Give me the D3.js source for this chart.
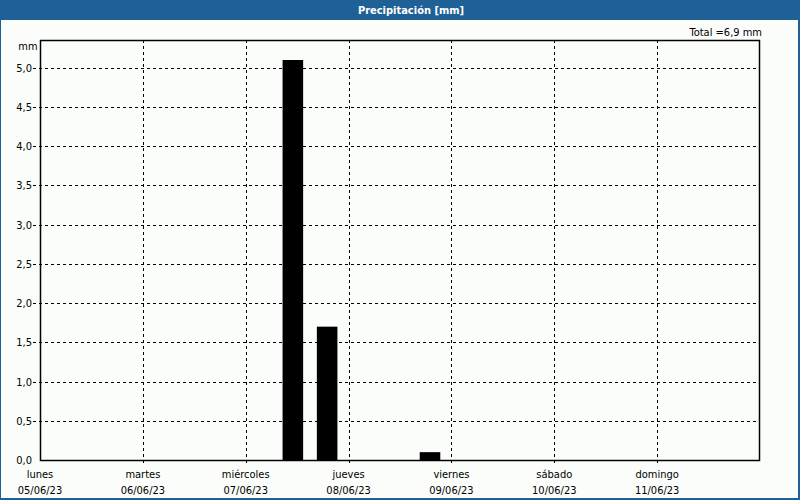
<!DOCTYPE html>
<html><head><meta charset="utf-8">
<script src="https://cdn.jsdelivr.net/npm/d3@7"></script>
<style>html,body{margin:0;padding:0;background:#fbfdfb;}svg{display:block;}</style>
</head><body>
<script>
const title = "Precipitación [mm]";
const unitLabel = "mm";
const totalLabel = "Total =6,9 mm";
const dayNames = ["lunes","martes","miércoles","jueves","viernes","sábado","domingo"];
const dayDates = ["05/06/23","06/06/23","07/06/23","08/06/23","09/06/23","10/06/23","11/06/23"];
// 8-hour periods: bar center time (day offset from 05/06 00:00, hours)
const barDay = [2, 2, 3];
const barHour = [11, 19, 19];
const barValue = [5.1, 1.7, 0.1];
const yTicks = [0,0.5,1,1.5,2,2.5,3,3.5,4,4.5,5];

const W = 800, H = 500;
const m = {l:40, r:40, t:40, b:40};
const font = "Tahoma, 'DejaVu Sans Condensed', 'Liberation Sans', sans-serif";

const svg = d3.select("body").append("svg").attr("width", W).attr("height", H)
  .style("font-family", font);

svg.append("rect").attr("x",0).attr("y",0).attr("width",W).attr("height",H).attr("fill","#fbfdfb");
// title bar
svg.append("rect").attr("x",0).attr("y",0).attr("width",W).attr("height",20).attr("fill","#1f6197");
svg.append("text").attr("x",411).attr("y",14).attr("text-anchor","middle")
  .attr("fill","#ffffff").attr("font-weight","bold").attr("font-size","11px").text(title);
// outer border
svg.append("rect").attr("x",0.5).attr("y",0.5).attr("width",W-2).attr("height",H-2)
  .attr("fill","none").attr("stroke","#1f6197").attr("stroke-width",1);
svg.append("rect").attr("x",W-2).attr("y",0).attr("width",2).attr("height",H).attr("fill","#1f6197");
svg.append("rect").attr("x",0).attr("y",H-2).attr("width",W).attr("height",2).attr("fill","#1f6197");

const x = d3.scaleLinear().domain([0, 7]).range([m.l, W - m.r]);
const y = d3.scaleLinear().domain([0, 5.1*1.05]).range([H - m.b, m.t]);

// horizontal grid
const g = svg.append("g");
g.selectAll("line.h").data(yTicks.filter(v=>v>0)).join("line")
  .attr("x1", m.l-7).attr("x2", W-m.r)
  .attr("y1", d=>Math.round(y(d))+0.5).attr("y2", d=>Math.round(y(d))+0.5)
  .attr("stroke","#000").attr("stroke-dasharray","3,3");
// vertical grid
g.selectAll("line.v").data(d3.range(1,7)).join("line")
  .attr("x1", d=>Math.round(x(d))+0.5).attr("x2", d=>Math.round(x(d))+0.5)
  .attr("y1", m.t).attr("y2", H-m.b+3)
  .attr("stroke","#000").attr("stroke-dasharray","3,3");

// bars
const bw = x(4.8/24) - x(0);
svg.selectAll("rect.bar").data(barValue).join("rect")
  .attr("x", (d,i)=> x(barDay[i] + barHour[i]/24) - bw/2)
  .attr("width", bw)
  .attr("y", d=> y(d))
  .attr("height", d=> y(0) - y(d))
  .attr("fill","#000");

// frame
svg.append("rect").attr("x", m.l+0.5).attr("y", m.t+0.5)
  .attr("width", W-m.r-m.l-1).attr("height", H-m.b-m.t)
  .attr("fill","none").attr("stroke","#000").attr("stroke-width",1.5);

// y labels
svg.selectAll("text.yl").data(yTicks).join("text")
  .attr("x", 32).attr("y", d=>y(d)+4).attr("text-anchor","end")
  .attr("font-size","11px").attr("fill","#000")
  .text(d=>d3.format(".1f")(d).replace(".",","));
svg.append("text").attr("x",28).attr("y",50).attr("text-anchor","middle")
  .attr("font-size","11px").attr("fill","#000").text(unitLabel);
svg.append("text").attr("x",762).attr("y",36).attr("text-anchor","end")
  .attr("font-size","11px").attr("fill","#000").text(totalLabel);

// x labels
svg.selectAll("text.xn").data(dayNames).join("text")
  .attr("x",(d,i)=>x(i)).attr("y",478).attr("text-anchor","middle")
  .attr("font-size","11px").attr("fill","#000").text(d=>d);
svg.selectAll("text.xd").data(dayDates).join("text")
  .attr("x",(d,i)=>x(i)).attr("y",494).attr("text-anchor","middle")
  .attr("font-size","11px").attr("fill","#000").text(d=>d);
</script>
</body></html>
